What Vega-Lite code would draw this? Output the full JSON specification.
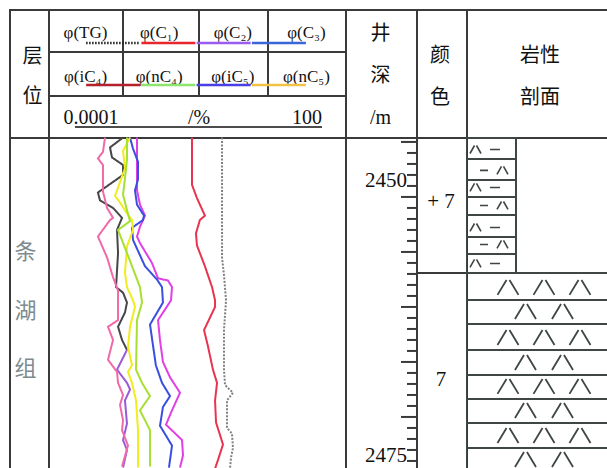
{
"$schema": "https://vega.github.io/schema/vega-lite/v6.json",
"padding": {"left": 9, "top": 9, "right": 0, "bottom": 0},
"background": "white",
"config": {"view": {"stroke": null}, "concat": {"spacing": 0}},
"datasets": {
"legend": [{"item":"TG","label":"φ(TG)"},{"item":"C1","label":"φ(C₁)"},{"item":"C2","label":"φ(C₂)"},{"item":"C3","label":"φ(C₃)"},{"item":"iC4","label":"φ(iC₄)"},{"item":"nC4","label":"φ(nC₄)"},{"item":"iC5","label":"φ(iC₅)"},{"item":"nC5","label":"φ(nC₅)"}],
"ticks": [{"depth":2445,"kind":"major"},{"depth":2446,"kind":"minor"},{"depth":2447,"kind":"minor"},{"depth":2448,"kind":"minor"},{"depth":2449,"kind":"minor"},{"depth":2450,"kind":"major"},{"depth":2451,"kind":"minor"},{"depth":2452,"kind":"minor"},{"depth":2453,"kind":"minor"},{"depth":2454,"kind":"minor"},{"depth":2455,"kind":"major"},{"depth":2456,"kind":"minor"},{"depth":2457,"kind":"minor"},{"depth":2458,"kind":"minor"},{"depth":2459,"kind":"minor"},{"depth":2460,"kind":"major"},{"depth":2461,"kind":"minor"},{"depth":2462,"kind":"minor"},{"depth":2463,"kind":"minor"},{"depth":2464,"kind":"minor"},{"depth":2465,"kind":"major"},{"depth":2466,"kind":"minor"},{"depth":2467,"kind":"minor"},{"depth":2468,"kind":"minor"},{"depth":2469,"kind":"minor"},{"depth":2470,"kind":"major"},{"depth":2471,"kind":"minor"},{"depth":2472,"kind":"minor"},{"depth":2473,"kind":"minor"},{"depth":2474,"kind":"minor"},{"depth":2475,"kind":"major"}],
"depthLabels": [{"depth":2450,"label":"2450"},{"depth":2475,"label":"2475"}],
"units": [{"unit":"upper","top":2444.64,"bottom":2456.91},{"unit":"lower","top":2456.91,"bottom":2480}],
"colorCodes": [{"depth":2450.5,"code":"+ 7"},{"depth":2466.6,"code":"7"}],
"beds": [
{"unit":"upper","top":2444.64,"bottom":2446.55,"pattern":"A"},
{"unit":"upper","top":2446.55,"bottom":2448.45,"pattern":"B"},
{"unit":"upper","top":2448.45,"bottom":2450.0,"pattern":"A"},
{"unit":"upper","top":2450.0,"bottom":2451.64,"pattern":"B"},
{"unit":"upper","top":2451.64,"bottom":2453.64,"pattern":"A"},
{"unit":"upper","top":2453.64,"bottom":2455.18,"pattern":"B"},
{"unit":"upper","top":2455.18,"bottom":2456.91,"pattern":"A"},
{"unit":"lower","top":2456.91,"bottom":2459.36,"pattern":"L3"},
{"unit":"lower","top":2459.36,"bottom":2461.55,"pattern":"L2"},
{"unit":"lower","top":2461.55,"bottom":2463.91,"pattern":"L3"},
{"unit":"lower","top":2463.91,"bottom":2466.18,"pattern":"L2"},
{"unit":"lower","top":2466.18,"bottom":2468.36,"pattern":"L3"},
{"unit":"lower","top":2468.36,"bottom":2470.55,"pattern":"L2"},
{"unit":"lower","top":2470.55,"bottom":2472.82,"pattern":"L3"},
{"unit":"lower","top":2472.82,"bottom":2475.0,"pattern":"L2"}],
"gas": [
{"series":"TG","depth":2444.6,"value":0.328},{"series":"TG","depth":2450.3,"value":0.328},{"series":"TG","depth":2455.5,"value":0.328},{"series":"TG","depth":2457.1,"value":0.359},{"series":"TG","depth":2459.4,"value":0.395},{"series":"TG","depth":2462.1,"value":0.359},{"series":"TG","depth":2465.7,"value":0.359},{"series":"TG","depth":2467.1,"value":0.377},{"series":"TG","depth":2467.8,"value":0.546},{"series":"TG","depth":2468.5,"value":0.413},{"series":"TG","depth":2471.0,"value":0.413},{"series":"TG","depth":2471.5,"value":0.521},{"series":"TG","depth":2472.8,"value":0.546},{"series":"TG","depth":2473.7,"value":0.498},{"series":"TG","depth":2474.7,"value":0.475},
{"series":"C1","depth":2444.6,"value":0.0811},{"series":"C1","depth":2448.9,"value":0.0811},{"series":"C1","depth":2450.1,"value":0.102},{"series":"C1","depth":2451.7,"value":0.148},{"series":"C1","depth":2452.1,"value":0.117},{"series":"C1","depth":2453.3,"value":0.0977},{"series":"C1","depth":2454.4,"value":0.102},{"series":"C1","depth":2456.3,"value":0.148},{"series":"C1","depth":2458.2,"value":0.206},{"series":"C1","depth":2459.4,"value":0.237},{"series":"C1","depth":2460.0,"value":0.237},{"series":"C1","depth":2462.1,"value":0.142},{"series":"C1","depth":2463.6,"value":0.171},{"series":"C1","depth":2465.7,"value":0.215},{"series":"C1","depth":2466.9,"value":0.26},{"series":"C1","depth":2468.5,"value":0.237},{"series":"C1","depth":2470.5,"value":0.248},{"series":"C1","depth":2472.5,"value":0.343},{"series":"C1","depth":2473.9,"value":0.272},{"series":"C1","depth":2474.7,"value":0.237},
{"series":"C2","depth":2444.6,"value":0.00628},{"series":"C2","depth":2449.4,"value":0.00628},{"series":"C2","depth":2450.7,"value":0.00722},{"series":"C2","depth":2451.7,"value":0.00911},{"series":"C2","depth":2452.7,"value":0.00722},{"series":"C2","depth":2453.6,"value":0.00628},{"series":"C2","depth":2454.2,"value":0.00722},{"series":"C2","depth":2456.0,"value":0.0126},{"series":"C2","depth":2457.4,"value":0.0167},{"series":"C2","depth":2457.6,"value":0.0266},{"series":"C2","depth":2458.2,"value":0.032},{"series":"C2","depth":2459.4,"value":0.0305},{"series":"C2","depth":2461.2,"value":0.0167},{"series":"C2","depth":2463.0,"value":0.0183},{"series":"C2","depth":2465.0,"value":0.021},{"series":"C2","depth":2466.4,"value":0.0292},{"series":"C2","depth":2467.8,"value":0.0464},{"series":"C2","depth":2469.4,"value":0.032},{"series":"C2","depth":2470.7,"value":0.0242},{"series":"C2","depth":2472.1,"value":0.051},{"series":"C2","depth":2473.5,"value":0.0534},{"series":"C2","depth":2474.6,"value":0.0464},
{"series":"C3","depth":2444.6,"value":0.00454},{"series":"C3","depth":2445.6,"value":0.00521},{"series":"C3","depth":2446.8,"value":0.00658},{"series":"C3","depth":2448.4,"value":0.00658},{"series":"C3","depth":2449.4,"value":0.00572},{"series":"C3","depth":2450.7,"value":0.00628},{"series":"C3","depth":2451.7,"value":0.0087},{"series":"C3","depth":2452.1,"value":0.0083},{"series":"C3","depth":2452.8,"value":0.00498},{"series":"C3","depth":2453.9,"value":0.00521},{"series":"C3","depth":2456.3,"value":0.00911},{"series":"C3","depth":2457.5,"value":0.0159},{"series":"C3","depth":2458.2,"value":0.0201},{"series":"C3","depth":2459.6,"value":0.021},{"series":"C3","depth":2461.6,"value":0.0115},{"series":"C3","depth":2465.3,"value":0.0151},{"series":"C3","depth":2466.9,"value":0.0201},{"series":"C3","depth":2468.1,"value":0.0292},{"series":"C3","depth":2469.1,"value":0.021},{"series":"C3","depth":2470.8,"value":0.0183},{"series":"C3","depth":2472.6,"value":0.032},{"series":"C3","depth":2474.6,"value":0.0278},
{"series":"C4x","depth":2444.6,"value":0.00328},{"series":"C4x","depth":2445.5,"value":0.00179},{"series":"C4x","depth":2446.4,"value":0.00196},{"series":"C4x","depth":2447.1,"value":0.00328},{"series":"C4x","depth":2448.0,"value":0.00328},{"series":"C4x","depth":2449.6,"value":0.00102},{"series":"C4x","depth":2450.3,"value":0.00112},{"series":"C4x","depth":2451.0,"value":0.00206},{"series":"C4x","depth":2451.9,"value":0.00313},{"series":"C4x","depth":2453.0,"value":0.00248},{"series":"C4x","depth":2455.1,"value":0.0026},{"series":"C4x","depth":2458.2,"value":0.00237},{"series":"C4x","depth":2458.7,"value":0.00328},{"series":"C4x","depth":2459.6,"value":0.00394},{"series":"C4x","depth":2460.5,"value":0.00359},{"series":"C4x","depth":2461.8,"value":0.0026},{"series":"C4x","depth":2463.0,"value":0.00313},{"series":"C4x","depth":2463.9,"value":0.00394},
{"series":"iC5","depth":2463.9,"value":0.00394},{"series":"iC5","depth":2465.7,"value":0.00248},{"series":"iC5","depth":2466.9,"value":0.00394},{"series":"iC5","depth":2467.5,"value":0.00454},{"series":"iC5","depth":2468.5,"value":0.00359},{"series":"iC5","depth":2470.6,"value":0.00394},{"series":"iC5","depth":2472.1,"value":0.00328},{"series":"iC5","depth":2473.0,"value":0.00394},{"series":"iC5","depth":2474.6,"value":0.00328},
{"series":"iC4","depth":2444.6,"value":0.00142},{"series":"iC4","depth":2445.9,"value":0.00129},{"series":"iC4","depth":2446.5,"value":0.00102},{"series":"iC4","depth":2447.1,"value":0.00129},{"series":"iC4","depth":2449.5,"value":0.00129},{"series":"iC4","depth":2451.0,"value":0.00156},{"series":"iC4","depth":2451.9,"value":0.00206},{"series":"iC4","depth":2452.1,"value":0.00179},{"series":"iC4","depth":2453.6,"value":0.00102},{"series":"iC4","depth":2455.5,"value":0.00156},{"series":"iC4","depth":2457.3,"value":0.00206},{"series":"iC4","depth":2458.5,"value":0.0026},{"series":"iC4","depth":2461.2,"value":0.0026},{"series":"iC4","depth":2461.8,"value":0.00163},{"series":"iC4","depth":2463.0,"value":0.00206},{"series":"iC4","depth":2464.8,"value":0.00163},{"series":"iC4","depth":2465.9,"value":0.00248},{"series":"iC4","depth":2466.9,"value":0.0026},{"series":"iC4","depth":2468.0,"value":0.00328},{"series":"iC4","depth":2468.9,"value":0.00285},{"series":"iC4","depth":2470.3,"value":0.00328},{"series":"iC4","depth":2471.2,"value":0.00313},{"series":"iC4","depth":2472.6,"value":0.00413},{"series":"iC4","depth":2474.5,"value":0.00313},
{"series":"nC5","depth":2444.6,"value":0.00454},{"series":"nC5","depth":2445.8,"value":0.00328},{"series":"nC5","depth":2447.4,"value":0.00359},{"series":"nC5","depth":2449.9,"value":0.00226},{"series":"nC5","depth":2450.5,"value":0.00285},{"series":"nC5","depth":2451.5,"value":0.00394},{"series":"nC5","depth":2452.1,"value":0.00498},{"series":"nC5","depth":2453.0,"value":0.00521},{"series":"nC5","depth":2454.5,"value":0.00394},{"series":"nC5","depth":2456.9,"value":0.00359},{"series":"nC5","depth":2458.2,"value":0.00394},{"series":"nC5","depth":2459.4,"value":0.00521},{"series":"nC5","depth":2460.0,"value":0.00572},{"series":"nC5","depth":2461.8,"value":0.00454},{"series":"nC5","depth":2463.6,"value":0.00413},{"series":"nC5","depth":2465.3,"value":0.00498},{"series":"nC5","depth":2465.9,"value":0.00413},{"series":"nC5","depth":2466.9,"value":0.00498},{"series":"nC5","depth":2468.5,"value":0.006},{"series":"nC5","depth":2471.2,"value":0.00658},{"series":"nC5","depth":2474.6,"value":0.00658},
{"series":"nC4","depth":2444.6,"value":0.00394},{"series":"nC4","depth":2446.6,"value":0.00394},{"series":"nC4","depth":2448.3,"value":0.00359},{"series":"nC4","depth":2449.8,"value":0.00328},{"series":"nC4","depth":2451.2,"value":0.00394},{"series":"nC4","depth":2452.2,"value":0.00454},{"series":"nC4","depth":2453.0,"value":0.0026},{"series":"nC4","depth":2455.1,"value":0.00394},{"series":"nC4","depth":2458.2,"value":0.00722},{"series":"nC4","depth":2459.6,"value":0.00793},{"series":"nC4","depth":2461.2,"value":0.00628},{"series":"nC4","depth":2465.7,"value":0.006},{"series":"nC4","depth":2466.9,"value":0.00793},{"series":"nC4","depth":2468.1,"value":0.0115},{"series":"nC4","depth":2469.4,"value":0.00722},{"series":"nC4","depth":2471.2,"value":0.0115},{"series":"nC4","depth":2474.5,"value":0.0115}
]
},
"spacing": 0,
"bounds": "flush",
"hconcat": [
{"width": 39, "height": 459, "data": {"values": [{"column": "层位", "formation": "条湖组"}]}, "layer": [
  {"mark": {"type": "rule", "clip": true, "strokeWidth": 4, "color": "#3a3a3a"}, "encoding": {"x": {"value": 0}}},
  {"mark": {"type": "rule", "clip": true, "strokeWidth": 4, "color": "#3a3a3a"}, "encoding": {"y": {"value": 0}}},
  {"mark": {"type": "rule", "clip": true, "strokeWidth": 2, "color": "#3a3a3a"}, "encoding": {"y": {"value": 129}}},
  {"mark": {"type": "text", "clip": true, "text": ["层", "位"], "font": "Noto Sans CJK SC", "fontSize": 20, "lineHeight": 40, "dx": 4, "color": "#111111", "baseline": "middle"}, "encoding": {"y": {"value": 48}}},
  {"mark": {"type": "text", "clip": true, "text": ["条", "湖", "组"], "font": "Noto Sans CJK SC", "fontSize": 22, "lineHeight": 58.5, "dx": -3, "color": "#7d8b90", "baseline": "middle"}, "encoding": {"y": {"value": 243}}}
]},
{"width": 297, "height": 459,
 "resolve": {"scale": {"x": "independent", "color": "independent"}},
 "layer": [
  {"data": {"values": [{"edge": "left"}]}, "mark": {"type": "rule", "clip": true, "strokeWidth": 4, "color": "#3a3a3a"}, "encoding": {"x": {"value": 0}}},
  {"data": {"values": [{"edge": "top"}]}, "mark": {"type": "rule", "clip": true, "strokeWidth": 4, "color": "#3a3a3a"}, "encoding": {"y": {"value": 0}}},
  {"data": {"values": [{"edge": "row1"}]}, "mark": {"type": "rule", "clip": true, "strokeWidth": 2, "color": "#3a3a3a"}, "encoding": {"y": {"value": 43}}},
  {"data": {"values": [{"edge": "row2"}]}, "mark": {"type": "rule", "clip": true, "strokeWidth": 2, "color": "#3a3a3a"}, "encoding": {"y": {"value": 87}}},
  {"data": {"values": [{"edge": "header"}]}, "mark": {"type": "rule", "clip": true, "strokeWidth": 2, "color": "#3a3a3a"}, "encoding": {"y": {"value": 129}}},
  {"data": {"values": [{"edge": "cell1"}]}, "mark": {"type": "rule", "clip": true, "strokeWidth": 2, "color": "#3a3a3a"}, "encoding": {"x": {"value": 75}, "y": {"value": 0}, "y2": {"value": 87}}},
  {"data": {"values": [{"edge": "cell2"}]}, "mark": {"type": "rule", "clip": true, "strokeWidth": 2, "color": "#3a3a3a"}, "encoding": {"x": {"value": 151}, "y": {"value": 0}, "y2": {"value": 87}}},
  {"data": {"values": [{"edge": "cell3"}]}, "mark": {"type": "rule", "clip": true, "strokeWidth": 2, "color": "#3a3a3a"}, "encoding": {"x": {"value": 220}, "y": {"value": 0}, "y2": {"value": 87}}},
  {"data": {"name": "legend"}, "transform": [{"filter": "indexof(['TG','C1','C2','C3'], datum.item) >= 0"}],
   "mark": {"type": "text", "clip": true, "font": "Liberation Serif", "fontSize": 17, "color": "#111111", "baseline": "middle"},
   "encoding": {"x": {"field": "item", "type": "nominal", "axis": null, "scale": {"domain": ["TG","C1","C2","C3"], "range": [37.5, 258.5], "padding": 0}}, "y": {"value": 24}, "text": {"field": "label"}}},
  {"data": {"name": "legend"}, "transform": [{"filter": "indexof(['iC4','nC4','iC5','nC5'], datum.item) >= 0"}],
   "mark": {"type": "text", "clip": true, "font": "Liberation Serif", "fontSize": 17, "color": "#111111", "baseline": "middle"},
   "encoding": {"x": {"field": "item", "type": "nominal", "axis": null, "scale": {"domain": ["iC4","nC4","iC5","nC5"], "range": [37.5, 258.5], "padding": 0}}, "y": {"value": 68}, "text": {"field": "label"}}},
  {"data": {"name": "legend"}, "transform": [{"filter": "indexof(['TG','C1','C2','C3'], datum.item) >= 0"}],
   "mark": {"type": "rule", "clip": true, "strokeWidth": 2.5, "xOffset": -27, "x2Offset": 27},
   "encoding": {"x": {"field": "item", "type": "nominal", "axis": null, "scale": {"domain": ["TG","C1","C2","C3"], "range": [37.5, 258.5], "padding": 0}}, "x2": {"field": "item"}, "y": {"value": 34},
     "color": {"field": "item", "type": "nominal", "legend": null, "scale": {"domain": ["TG","C1","C2","C3","iC4","nC4","iC5","nC5"], "range": ["#222222","#e8262c","#9b5cf2","#3b66d8","#b4202c","#8ee56e","#4a3fe4","#f2c245"]}},
     "strokeDash": {"condition": {"test": "datum.item === 'TG'", "value": [1.5, 1.5]}, "value": [1, 0]}}},
  {"data": {"name": "legend"}, "transform": [{"filter": "indexof(['iC4','nC4','iC5','nC5'], datum.item) >= 0"}],
   "mark": {"type": "rule", "clip": true, "strokeWidth": 2.5, "xOffset": -27, "x2Offset": 27},
   "encoding": {"x": {"field": "item", "type": "nominal", "axis": null, "scale": {"domain": ["iC4","nC4","iC5","nC5"], "range": [37.5, 258.5], "padding": 0}}, "x2": {"field": "item"}, "y": {"value": 76},
     "color": {"field": "item", "type": "nominal", "legend": null, "scale": {"domain": ["TG","C1","C2","C3","iC4","nC4","iC5","nC5"], "range": ["#222222","#e8262c","#9b5cf2","#3b66d8","#b4202c","#8ee56e","#4a3fe4","#f2c245"]}}}},
  {"data": {"values": [{"label": "0.0001"}, {"label": "/%"}, {"label": "100"}]},
   "mark": {"type": "text", "clip": true, "font": "Liberation Serif", "fontSize": 20, "color": "#111111", "baseline": "middle"},
   "encoding": {"x": {"field": "label", "type": "ordinal", "axis": null, "scale": {"domain": ["0.0001","/%","100"], "range": [43, 259], "padding": 0}}, "y": {"value": 109}, "text": {"field": "label"}}},
  {"data": {"values": [{"span": "0.0001-100"}]},
   "mark": {"type": "rule", "clip": true, "strokeWidth": 1.3, "color": "#111111"},
   "encoding": {"x": {"value": 27}, "x2": {"value": 274}, "y": {"value": 118}}},
  {"data": {"name": "gas"}, "mark": {"type": "line", "clip": true, "strokeWidth": 2},
   "encoding": {
     "x": {"field": "value", "type": "quantitative", "axis": null, "scale": {"type": "log", "domain": [0.0001, 100], "nice": false}},
     "y": {"field": "depth", "type": "quantitative", "axis": null, "scale": {"domain": [2432.9145, 2474.64], "reverse": true, "nice": false, "zero": false}},
     "order": {"field": "depth", "type": "quantitative"},
     "color": {"field": "series", "type": "nominal", "legend": null, "scale": {"domain": ["TG","C1","C2","C3","iC4","C4x","nC4","iC5","nC5"], "range": ["#808080","#e8344e","#e040e6","#3a4ee0","#f06aaa","#474747","#a6e030","#9a5ad8","#f0ec20"]}},
     "strokeDash": {"condition": {"test": "datum.series === 'TG'", "value": [2, 1.5]}, "value": [1, 0]}
   }}
]},
{"width": 71, "height": 459, "layer": [
  {"data": {"values": [{"edge": "left"}]}, "mark": {"type": "rule", "clip": true, "strokeWidth": 4, "color": "#3a3a3a"}, "encoding": {"x": {"value": 0}}},
  {"data": {"values": [{"edge": "top"}]}, "mark": {"type": "rule", "clip": true, "strokeWidth": 4, "color": "#3a3a3a"}, "encoding": {"y": {"value": 0}}},
  {"data": {"values": [{"edge": "header"}]}, "mark": {"type": "rule", "clip": true, "strokeWidth": 2, "color": "#3a3a3a"}, "encoding": {"y": {"value": 129}}},
  {"data": {"values": [{"column": "井深/m"}]}, "mark": {"type": "text", "clip": true, "text": ["井", "深", "/m"], "font": "Liberation Serif, Noto Sans CJK SC", "fontSize": 20, "lineHeight": 42, "color": "#111111", "baseline": "middle"}, "encoding": {"y": {"value": 25}}},
  {"data": {"name": "ticks"}, "mark": {"type": "rule", "clip": true, "strokeWidth": 2, "color": "#3a3a3a"},
   "encoding": {
     "y": {"field": "depth", "type": "quantitative", "axis": null, "scale": {"domain": [2432.9145, 2474.64], "reverse": true, "nice": false, "zero": false}},
     "x": {"field": "kind", "type": "nominal", "axis": null, "scale": {"domain": ["major", "minor"], "range": [53, 65], "padding": 0}},
     "x2": {"value": 71}}},
  {"data": {"name": "depthLabels"}, "mark": {"type": "text", "clip": true, "align": "right", "baseline": "alphabetic", "dy": -10, "font": "Liberation Serif", "fontSize": 21, "color": "#111111"},
   "encoding": {
     "y": {"field": "depth", "type": "quantitative", "axis": null, "scale": {"domain": [2432.9145, 2474.64], "reverse": true, "nice": false, "zero": false}},
     "x": {"value": 62},
     "text": {"field": "label"}}}
]},
{"width": 50, "height": 459, "layer": [
  {"data": {"values": [{"edge": "left"}]}, "mark": {"type": "rule", "clip": true, "strokeWidth": 4, "color": "#3a3a3a"}, "encoding": {"x": {"value": 0}}},
  {"data": {"values": [{"edge": "top"}]}, "mark": {"type": "rule", "clip": true, "strokeWidth": 4, "color": "#3a3a3a"}, "encoding": {"y": {"value": 0}}},
  {"data": {"values": [{"edge": "header"}]}, "mark": {"type": "rule", "clip": true, "strokeWidth": 2, "color": "#3a3a3a"}, "encoding": {"y": {"value": 129}}},
  {"data": {"values": [{"column": "颜色"}]}, "mark": {"type": "text", "clip": true, "text": ["颜", "色"], "font": "Noto Sans CJK SC", "fontSize": 20, "lineHeight": 42, "dx": -1, "color": "#111111", "baseline": "middle"}, "encoding": {"y": {"value": 47}}},
  {"data": {"name": "units"}, "transform": [{"filter": "datum.unit === 'upper'"}], "mark": {"type": "rule", "clip": true, "strokeWidth": 2, "color": "#3a3a3a"},
   "encoding": {"y": {"field": "bottom", "type": "quantitative", "axis": null, "scale": {"domain": [2432.9145, 2474.64], "reverse": true, "nice": false, "zero": false}}}},
  {"data": {"name": "colorCodes"}, "mark": {"type": "text", "clip": true, "font": "Liberation Serif", "fontSize": 21, "color": "#111111", "baseline": "middle"},
   "encoding": {"y": {"field": "depth", "type": "quantitative", "axis": null, "scale": {"domain": [2432.9145, 2474.64], "reverse": true, "nice": false, "zero": false}}, "text": {"field": "code"}}}
]},
{"width": 141, "height": 459, "layer": [
  {"data": {"values": [{"edge": "left"}]}, "mark": {"type": "rule", "clip": true, "strokeWidth": 4, "color": "#3a3a3a"}, "encoding": {"x": {"value": 0}}},
  {"data": {"values": [{"edge": "top"}]}, "mark": {"type": "rule", "clip": true, "strokeWidth": 4, "color": "#3a3a3a"}, "encoding": {"y": {"value": 0}}},
  {"data": {"values": [{"edge": "header"}]}, "mark": {"type": "rule", "clip": true, "strokeWidth": 2, "color": "#3a3a3a"}, "encoding": {"y": {"value": 129}}},
  {"data": {"values": [{"column": "岩性剖面"}]}, "mark": {"type": "text", "clip": true, "text": ["岩性", "剖面"], "font": "Noto Sans CJK SC", "fontSize": 20, "lineHeight": 42, "dx": 3.5, "color": "#111111", "baseline": "middle"}, "encoding": {"y": {"value": 47}}},
  {"data": {"name": "beds"}, "transform": [{"filter": "datum.unit === 'upper'"}], "mark": {"type": "rect", "clip": true, "filled": false, "color": "#3f4646", "strokeWidth": 2},
   "encoding": {"x": {"value": 0}, "x2": {"value": 50},
     "y": {"field": "top", "type": "quantitative", "axis": null, "scale": {"domain": [2432.9145, 2474.64], "reverse": true, "nice": false, "zero": false}},
     "y2": {"field": "bottom"}}},
  {"data": {"name": "beds"}, "transform": [{"filter": "datum.unit === 'lower'"}], "mark": {"type": "rect", "clip": true, "filled": false, "color": "#3f4646", "strokeWidth": 2},
   "encoding": {"x": {"value": 0}, "x2": {"value": 170},
     "y": {"field": "top", "type": "quantitative", "axis": null, "scale": {"domain": [2432.9145, 2474.64], "reverse": true, "nice": false, "zero": false}},
     "y2": {"field": "bottom"}}},
  {"data": {"name": "beds"}, "transform": [{"filter": "datum.unit === 'upper'"}], "mark": {"type": "point", "clip": true, "filled": false, "color": "#3f4646", "strokeWidth": 1.6, "size": 1764, "yOffset": -9.5, "opacity": 1},
   "encoding": {"x": {"value": 21},
     "y": {"field": "bottom", "type": "quantitative", "axis": null, "scale": {"domain": [2432.9145, 2474.64], "reverse": true, "nice": false, "zero": false}},
     "shape": {"field": "pattern", "type": "nominal", "legend": null, "scale": {"domain": ["A","B","L3","L2"], "range": [
       "M-0.81,0.19L-0.595,-0.19M-0.5,-0.19L-0.286,0.19M0.143,0L0.619,0",
       "M-0.333,0L0.048,0M0.476,0.19L0.69,-0.19M0.786,-0.19L1,0.19",
       "M-1,0.161L-0.806,-0.161M-0.742,-0.161L-0.548,0.161M-0.226,0.161L-0.032,-0.161M0.032,-0.161L0.226,0.161M0.548,0.161L0.742,-0.161M0.806,-0.161L1,0.161",
       "M-0.624,0.161L-0.43,-0.161M-0.366,-0.161L-0.172,0.161M0.172,0.161L0.366,-0.161M0.43,-0.161L0.624,0.161"]}}}},
  {"data": {"name": "beds"}, "transform": [{"filter": "datum.unit === 'lower'"}], "mark": {"type": "point", "clip": true, "filled": false, "color": "#3f4646", "strokeWidth": 1.8, "size": 8649, "yOffset": -12.5, "opacity": 1},
   "encoding": {"x": {"value": 78},
     "y": {"field": "bottom", "type": "quantitative", "axis": null, "scale": {"domain": [2432.9145, 2474.64], "reverse": true, "nice": false, "zero": false}},
     "shape": {"field": "pattern", "type": "nominal", "legend": null, "scale": {"domain": ["A","B","L3","L2"], "range": [
       "M-0.81,0.19L-0.595,-0.19M-0.5,-0.19L-0.286,0.19M0.143,0L0.619,0",
       "M-0.333,0L0.048,0M0.476,0.19L0.69,-0.19M0.786,-0.19L1,0.19",
       "M-1,0.161L-0.806,-0.161M-0.742,-0.161L-0.548,0.161M-0.226,0.161L-0.032,-0.161M0.032,-0.161L0.226,0.161M0.548,0.161L0.742,-0.161M0.806,-0.161L1,0.161",
       "M-0.624,0.161L-0.43,-0.161M-0.366,-0.161L-0.172,0.161M0.172,0.161L0.366,-0.161M0.43,-0.161L0.624,0.161"]}}}}
]}
]
}
